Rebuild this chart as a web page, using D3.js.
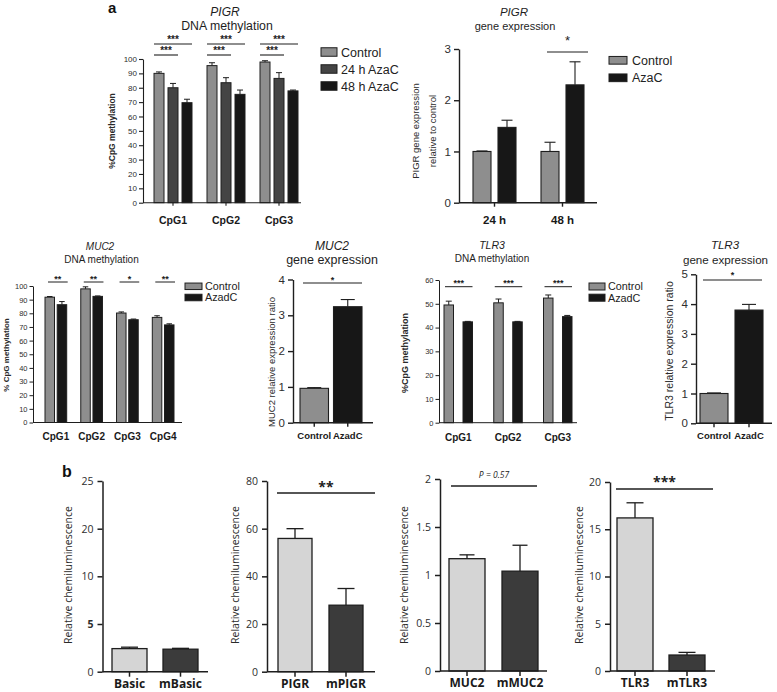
<!DOCTYPE html>
<html><head><meta charset="utf-8">
<script src="https://cdn.jsdelivr.net/npm/d3@7"></script>
<style>body{margin:0;background:#fff}svg{display:block}</style>
</head><body><svg id="c" width="777" height="692"></svg>
<script>
// ---------------- DATA ----------------
// a, PIGR DNA methylation
const pigrMethCategories = ["CpG1", "CpG2", "CpG3"];
const pigrMethSeries = ["Control", "24 h AzaC", "48 h AzaC"];
const pigrMethControl = [90.0, 95.4, 97.9];
const pigrMethControlErr = [1.0, 2.0, 0.9];
const pigrMeth24h = [80.0, 83.5, 86.5];
const pigrMeth24hErr = [3.0, 3.5, 4.0];
const pigrMeth48h = [69.6, 75.4, 77.8];
const pigrMeth48hErr = [2.4, 3.0, 0.6];
const pigrMethTicks = [0, 10, 20, 30, 40, 50, 60, 70, 80, 90, 100];
const pigrMethTitle = ["PIGR", "DNA methylation"];
const pigrMethYLabel = ["%CpG methylation"];
const pigrMethSig = [
  {from: ["CpG1", "Control"], to: ["CpG1", "48 h AzaC"], label: "***", level: 0},
  {from: ["CpG1", "Control"], to: ["CpG1", "24 h AzaC"], label: "***", level: 1},
  {from: ["CpG2", "Control"], to: ["CpG2", "48 h AzaC"], label: "***", level: 0},
  {from: ["CpG2", "Control"], to: ["CpG2", "24 h AzaC"], label: "***", level: 1},
  {from: ["CpG3", "Control"], to: ["CpG3", "48 h AzaC"], label: "***", level: 0},
  {from: ["CpG3", "Control"], to: ["CpG3", "24 h AzaC"], label: "***", level: 1}
];

// a, PIGR gene expression
const pigrExprCategories = ["24 h", "48 h"];
const pigrExprSeries = ["Control", "AzaC"];
const pigrExprControl = [1.0, 1.0];
const pigrExprControlErr = [0.01, 0.18];
const pigrExprAzaC = [1.47, 2.30];
const pigrExprAzaCErr = [0.14, 0.45];
const pigrExprTicks = [0, 1, 2, 3];
const pigrExprTitle = ["PIGR", "gene expression"];
const pigrExprYLabel = ["PIGR gene expression", "relative to control"];
const pigrExprSig = [{from: ["48 h", "Control"], to: ["48 h", "AzaC"], label: "*", level: 0}];

// a, MUC2 DNA methylation
const muc2MethCategories = ["CpG1", "CpG2", "CpG3", "CpG4"];
const muc2MethSeries = ["Control", "AzadC"];
const muc2MethControl = [91.8, 97.9, 80.2, 77.0];
const muc2MethControlErr = [0.5, 1.5, 0.8, 1.2];
const muc2MethAzadC = [86.3, 92.4, 75.3, 71.5];
const muc2MethAzadCErr = [2.3, 0.3, 0.5, 0.8];
const muc2MethTicks = [0, 10, 20, 30, 40, 50, 60, 70, 80, 90, 100];
const muc2MethTitle = ["MUC2", "DNA methylation"];
const muc2MethYLabel = ["% CpG methylation"];
const muc2MethSig = [
  {from: ["CpG1", "Control"], to: ["CpG1", "AzadC"], label: "**", level: 0},
  {from: ["CpG2", "Control"], to: ["CpG2", "AzadC"], label: "**", level: 0},
  {from: ["CpG3", "Control"], to: ["CpG3", "AzadC"], label: "*", level: 0},
  {from: ["CpG4", "Control"], to: ["CpG4", "AzadC"], label: "**", level: 0}
];

// a, MUC2 gene expression
const muc2ExprCategories = ["Control", "AzadC"];
const muc2ExprValues = [0.96, 3.24];
const muc2ExprErr = [0.02, 0.20];
const muc2ExprTicks = [0, 1, 2, 3, 4];
const muc2ExprTitle = ["MUC2", "gene expression"];
const muc2ExprYLabel = ["MUC2 relative expression ratio"];
const muc2ExprSig = [{from: ["Control", "ratio"], to: ["AzadC", "ratio"], label: "*", level: 0}];

// a, TLR3 DNA methylation
const tlr3MethCategories = ["CpG1", "CpG2", "CpG3"];
const tlr3MethSeries = ["Control", "AzadC"];
const tlr3MethControl = [49.5, 50.4, 52.4];
const tlr3MethControlErr = [1.6, 1.6, 1.3];
const tlr3MethAzadC = [42.4, 42.4, 44.6];
const tlr3MethAzadCErr = [0.2, 0.2, 0.5];
const tlr3MethTicks = [0, 10, 20, 30, 40, 50, 60];
const tlr3MethTitle = ["TLR3", "DNA methylation"];
const tlr3MethYLabel = ["%CpG methylation"];
const tlr3MethSig = [
  {from: ["CpG1", "Control"], to: ["CpG1", "AzadC"], label: "***", level: 0},
  {from: ["CpG2", "Control"], to: ["CpG2", "AzadC"], label: "***", level: 0},
  {from: ["CpG3", "Control"], to: ["CpG3", "AzadC"], label: "***", level: 0}
];

// a, TLR3 gene expression
const tlr3ExprCategories = ["Control", "AzadC"];
const tlr3ExprValues = [1.0, 3.8];
const tlr3ExprErr = [0.02, 0.19];
const tlr3ExprTicks = [0, 1, 2, 3, 4, 5];
const tlr3ExprTitle = ["TLR3", "gene expression"];
const tlr3ExprYLabel = ["TLR3 relative expression ratio"];
const tlr3ExprSig = [{from: ["Control", "ratio"], to: ["AzadC", "ratio"], label: "*", level: 0}];

// b, luciferase reporter
const basicCategories = ["Basic", "mBasic"];
const basicValues = [2.42, 2.36];
const basicErr = [0.15, 0.09];
const basicTicks = [0, 5, 10, 20, 25];

const pigrLucCategories = ["PIGR", "mPIGR"];
const pigrLucValues = [55.9, 27.9];
const pigrLucErr = [4.1, 7.0];
const pigrLucTicks = [0, 20, 40, 60, 80];
const pigrLucSig = [{from: ["PIGR", "lum"], to: ["mPIGR", "lum"], label: "**", level: 0}];

const muc2LucCategories = ["MUC2", "mMUC2"];
const muc2LucValues = [1.17, 1.04];
const muc2LucErr = [0.04, 0.27];
const muc2LucTicks = [0, 0.5, 1, 1.5, 2];
const muc2LucSig = [{from: ["MUC2", "lum"], to: ["mMUC2", "lum"], label: "P = 0.57", level: 0}];

const tlr3LucCategories = ["TLR3", "mTLR3"];
const tlr3LucValues = [16.2, 1.69];
const tlr3LucErr = [1.6, 0.28];
const tlr3LucTicks = [0, 5, 10, 15, 20];
const tlr3LucSig = [{from: ["TLR3", "lum"], to: ["mTLR3", "lum"], label: "***", level: 0}];

const lucYLabel = ["Relative chemiluminescence"];

// ---------------- DRAWING ----------------
const ARIAL = '"Liberation Sans", Arial, Helvetica, sans-serif';
const OPEN = '"Open Sans", "Liberation Sans", Arial, sans-serif';
const AX = "#1e1e1e", TX = "#2e2e2e";
const svg = d3.select("#c");

function drawPanel(p, L) {
  const font = L.font || ARIAL;
  const g = svg.append("g").attr("font-family", font);
  const y = d3.scaleLinear().domain(L.yDomain).range(L.yRange);
  const n = p.categories.length, m = p.series.length;
  const span = L.barRight - L.barLeft;
  const gW = m === 1 ? L.barW : L.groupW;
  const pad = (span - n * gW) / (span - gW);
  const x = d3.scaleBand().domain(p.categories).range([L.barLeft, L.barRight]).paddingInner(pad).paddingOuter(0);
  const ipad = m > 1 ? (gW - m * L.barW) / (gW - L.barW) : 0;
  const xi = d3.scaleBand().domain(p.series).range([0, x.bandwidth()]).paddingInner(ipad).paddingOuter(0);
  const bw = xi.bandwidth();
  const y0 = L.yRange[0];

  const rows = [];
  p.series.forEach((s, si) => p.categories.forEach((c, ci) =>
    rows.push({c, s, si, ci, v: p.values[si][ci], e: p.errs[si][ci]})));
  const col = d => L.colorBy === "category" ? L.colors[d.ci] : L.colors[d.si];
  const cx = d => x(d.c) + xi(d.s) + bw / 2;

  // error bars
  g.selectAll("line.eb").data(rows).join("line").attr("class", "eb")
    .attr("x1", cx).attr("x2", cx)
    .attr("y1", d => y(d.v)).attr("y2", d => y(d.v + d.e))
    .attr("stroke", AX).attr("stroke-width", L.barStroke);
  g.selectAll("line.cap").data(rows).join("line").attr("class", "cap")
    .attr("x1", d => cx(d) - L.capW / 2).attr("x2", d => cx(d) + L.capW / 2)
    .attr("y1", d => y(d.v + d.e)).attr("y2", d => y(d.v + d.e))
    .attr("stroke", AX).attr("stroke-width", L.barStroke);
  // bars
  g.selectAll("rect.bar").data(rows).join("rect").attr("class", "bar")
    .attr("x", d => x(d.c) + xi(d.s)).attr("width", bw)
    .attr("y", d => y(d.v)).attr("height", d => y0 - y(d.v))
    .attr("fill", col).attr("stroke", AX).attr("stroke-width", L.barStroke);

  // y axis
  const ya = d3.axisLeft(y).tickValues(p.yTicks).tickSize(L.tickLen).tickSizeOuter(0)
    .tickPadding(L.tickPad).tickFormat(d3.format("~g"));
  const yg = g.append("g").attr("transform", `translate(${L.axisX},0)`).call(ya)
    .attr("font-family", font).attr("font-size", L.tickFs);
  yg.select(".domain").attr("stroke", AX).attr("stroke-width", L.axisW);
  yg.selectAll(".tick line").attr("stroke", AX).attr("stroke-width", L.axisW);
  yg.selectAll(".tick text").attr("fill", TX)
    .attr("font-weight", d => (L.boldTick && L.boldTick.includes(d)) ? "bold" : "normal");

  // x axis
  g.append("line").attr("x1", L.axisX).attr("x2", L.axisEnd).attr("y1", y0).attr("y2", y0)
    .attr("stroke", AX).attr("stroke-width", L.axisW);
  const xa = d3.axisBottom(x).tickSize(L.xTickLen).tickSizeOuter(0);
  const xg = g.append("g").attr("transform", `translate(0,${y0})`).call(xa)
    .attr("font-family", font).attr("font-size", L.xLabelFs);
  xg.select(".domain").remove();
  xg.selectAll(".tick line").attr("stroke", AX).attr("stroke-width", L.axisW);
  xg.selectAll(".tick text").attr("y", L.xLabelDy).attr("dy", 0)
    .attr("font-weight", "bold").attr("fill", "#1a1a1a");

  // significance
  (p.sig || []).forEach(s => {
    const S = L.sig;
    const x1 = x(s.from[0]) + xi(s.from[1]) + S.dx1;
    const x2 = x(s.to[0]) + xi(s.to[1]) + bw + S.dx2;
    const ly = S.levelY[s.level];
    g.append("line").attr("x1", x1).attr("x2", x2).attr("y1", ly).attr("y2", ly)
      .attr("stroke", AX).attr("stroke-width", S.w || 1.1);
    const t = g.append("text").attr("x", (x1 + x2) / 2).attr("y", ly + S.dy)
      .attr("text-anchor", "middle").attr("font-size", S.fs).attr("fill", "#222")
      .attr("font-weight", S.bold ? "bold" : "normal");
    if (s.label.startsWith("P")) {
      t.append("tspan").attr("font-style", "italic").text("P");
      t.append("tspan").attr("font-style", "italic").text(s.label.slice(1));
    } else t.text(s.label);
  });

  // legend
  if (L.legend) {
    const G = L.legend;
    p.series.forEach((s, i) => {
      const cyy = G.y0 + i * G.step;
      g.append("rect").attr("x", G.x).attr("y", cyy - G.h / 2).attr("width", G.w).attr("height", G.h)
        .attr("fill", L.colors[i]).attr("stroke", AX).attr("stroke-width", 1);
      g.append("text").attr("x", G.textX).attr("y", cyy).attr("dy", "0.36em")
        .attr("font-size", G.fs).attr("fill", "#222").text(s);
    });
  }

  // titles
  (p.titles || []).forEach((t, i) => {
    const T = L.titles[i];
    g.append("text").attr("x", T.x).attr("y", T.y).attr("text-anchor", "middle")
      .attr("font-size", T.fs).attr("font-style", i === 0 ? "italic" : "normal")
      .attr("fill", "#1e1e1e").text(t);
  });

  // y label
  p.yLabel.forEach((t, i) => {
    const Y = L.yLab;
    g.append("text").attr("transform", `translate(${Y.x[i]},${Y.cy}) rotate(-90)`)
      .attr("text-anchor", "middle").attr("dy", "0.35em")
      .attr("font-size", Y.fs).attr("font-weight", Y.bold ? "bold" : "normal")
      .attr("fill", "#2a2a2a").text(t);
  });
}

const GRAY = "#8e8e8e", DARK = "#444444", BLACK = "#171717";
const LIGHT_B = "#d5d5d5", DARK_B = "#3b3b3b";

// a - PIGR methylation
drawPanel({categories: pigrMethCategories, series: pigrMethSeries,
  values: [pigrMethControl, pigrMeth24h, pigrMeth48h],
  errs: [pigrMethControlErr, pigrMeth24hErr, pigrMeth48hErr],
  yTicks: pigrMethTicks, sig: pigrMethSig, titles: pigrMethTitle, yLabel: pigrMethYLabel},
  {yDomain: [0, 100], yRange: [202.7, 59], axisX: 143, axisEnd: 301,
   barLeft: 154, barRight: 298, groupW: 38, barW: 10, capW: 6, barStroke: 1,
   tickLen: 4, tickPad: 2, tickFs: 8, axisW: 1.1, xTickLen: 3, xLabelDy: 21.5, xLabelFs: 10.5,
   colors: [GRAY, DARK, BLACK],
   sig: {levelY: [44, 55], dx1: 0, dx2: 0, fs: 10, dy: -1, bold: true, w: 1.1},
   legend: {x: 321, w: 16, h: 8.5, y0: 52, step: 17, textX: 341, fs: 12.5},
   titles: [{x: 225, y: 16.3, fs: 12}, {x: 227, y: 30, fs: 12.3}],
   yLab: {x: [112], cy: 131, fs: 8.5, bold: true}});

// a - PIGR expression
drawPanel({categories: pigrExprCategories, series: pigrExprSeries,
  values: [pigrExprControl, pigrExprAzaC], errs: [pigrExprControlErr, pigrExprAzaCErr],
  yTicks: pigrExprTicks, sig: pigrExprSig, titles: pigrExprTitle, yLabel: pigrExprYLabel},
  {yDomain: [0, 3], yRange: [202.7, 49], axisX: 459, axisEnd: 597,
   barLeft: 473, barRight: 584, groupW: 43, barW: 18, capW: 11, barStroke: 1.1,
   tickLen: 5, tickPad: 3, tickFs: 11.5, axisW: 1.4, xTickLen: 4, xLabelDy: 21.5, xLabelFs: 11.5,
   colors: [GRAY, BLACK],
   sig: {levelY: [52], dx1: 6, dx2: 4, fs: 13, dy: -7.5, bold: false, w: 1.2},
   legend: {x: 609, w: 18, h: 7.7, y0: 60.3, step: 17.5, textX: 632, fs: 12.5},
   titles: [{x: 514, y: 15.8, fs: 11.5}, {x: 515, y: 29.8, fs: 11}],
   yLab: {x: [416, 433], cy: 131, fs: 9.5, bold: false}});

// a - MUC2 methylation
drawPanel({categories: muc2MethCategories, series: muc2MethSeries,
  values: [muc2MethControl, muc2MethAzadC], errs: [muc2MethControlErr, muc2MethAzadCErr],
  yTicks: muc2MethTicks, sig: muc2MethSig, titles: muc2MethTitle, yLabel: muc2MethYLabel},
  {yDomain: [0, 100], yRange: [422.5, 286], axisX: 33, axisEnd: 182,
   barLeft: 45, barRight: 174, groupW: 21.7, barW: 9.5, capW: 5.5, barStroke: 1,
   tickLen: 3.5, tickPad: 2, tickFs: 7.5, axisW: 1, xTickLen: 0, xLabelDy: 17.5, xLabelFs: 10,
   colors: [GRAY, BLACK],
   sig: {levelY: [282], dx1: 3, dx2: 1, fs: 9, dy: 0, bold: true, w: 1},
   legend: {x: 185, w: 17, h: 6.5, y0: 286.3, step: 11.2, textX: 205, fs: 10.8},
   titles: [{x: 100, y: 250, fs: 10}, {x: 101.5, y: 262.5, fs: 10}],
   yLab: {x: [6.5], cy: 355, fs: 8, bold: true}});

// a - MUC2 expression
drawPanel({categories: muc2ExprCategories, series: ["ratio"],
  values: [muc2ExprValues], errs: [muc2ExprErr],
  yTicks: muc2ExprTicks, sig: muc2ExprSig, titles: muc2ExprTitle, yLabel: muc2ExprYLabel},
  {yDomain: [0, 4], yRange: [422.7, 279.5], axisX: 293, axisEnd: 373,
   barLeft: 300, barRight: 362, barW: 28.5, capW: 14, barStroke: 1.1,
   tickLen: 5, tickPad: 3, tickFs: 11.5, axisW: 1.4, xTickLen: 4, xLabelDy: 16.5, xLabelFs: 9.5,
   colorBy: "category", colors: [GRAY, BLACK],
   sig: {levelY: [283], dx1: 3, dx2: 0, fs: 9, dy: 0, bold: true, w: 1.1},
   titles: [{x: 332, y: 249.5, fs: 12}, {x: 332, y: 263.5, fs: 12.5}],
   yLab: {x: [272], cy: 362, fs: 9.5, bold: false}});

// a - TLR3 methylation
drawPanel({categories: tlr3MethCategories, series: tlr3MethSeries,
  values: [tlr3MethControl, tlr3MethAzadC], errs: [tlr3MethControlErr, tlr3MethAzadCErr],
  yTicks: tlr3MethTicks, sig: tlr3MethSig, titles: tlr3MethTitle, yLabel: tlr3MethYLabel},
  {yDomain: [0, 60], yRange: [422.7, 280], axisX: 439, axisEnd: 577,
   barLeft: 444, barRight: 572, groupW: 28.5, barW: 9.5, capW: 6, barStroke: 1,
   tickLen: 3.5, tickPad: 2, tickFs: 7.5, axisW: 1, xTickLen: 0, xLabelDy: 18, xLabelFs: 10,
   colors: [GRAY, BLACK],
   sig: {levelY: [286.7], dx1: 1, dx2: 0, fs: 9, dy: -1, bold: true, w: 1},
   legend: {x: 589, w: 16, h: 7, y0: 286.5, step: 11.2, textX: 608, fs: 10.8},
   titles: [{x: 492, y: 249.2, fs: 10.5}, {x: 492, y: 262, fs: 10}],
   yLab: {x: [405], cy: 353, fs: 9, bold: true}});

// a - TLR3 expression
drawPanel({categories: tlr3ExprCategories, series: ["ratio"],
  values: [tlr3ExprValues], errs: [tlr3ExprErr],
  yTicks: tlr3ExprTicks, sig: tlr3ExprSig, titles: tlr3ExprTitle, yLabel: tlr3ExprYLabel},
  {yDomain: [0, 5], yRange: [423.3, 274.3], axisX: 696, axisEnd: 772,
   barLeft: 700, barRight: 763, barW: 28, capW: 14, barStroke: 1.1,
   tickLen: 5, tickPad: 3, tickFs: 11.5, axisW: 1.4, xTickLen: 4, xLabelDy: 16, xLabelFs: 9.5,
   colorBy: "category", colors: [GRAY, BLACK],
   sig: {levelY: [280], dx1: 3, dx2: -1, fs: 9, dy: -2, bold: true, w: 1.1},
   titles: [{x: 725, y: 249.3, fs: 11.5}, {x: 725.5, y: 263.5, fs: 11.6}],
   yLab: {x: [669], cy: 351, fs: 10.5, bold: false}});

// b panels
const bCommon = {barStroke: 1.3, tickLen: 5, tickPad: 4, tickFs: 10.5, axisW: 1.5, xTickLen: 5,
  xLabelDy: 16, xLabelFs: 12, colorBy: "category", colors: [LIGHT_B, DARK_B], font: OPEN};

drawPanel({categories: basicCategories, series: ["lum"], values: [basicValues], errs: [basicErr],
  yTicks: basicTicks, yLabel: lucYLabel},
  Object.assign({}, bCommon, {yDomain: [0, 5, 10, 20, 25], yRange: [671.7, 624, 576.3, 528.7, 481],
   axisX: 102.5, axisEnd: 208, barLeft: 112, barRight: 198, barW: 35, capW: 17, boldTick: [5],
   yLab: {x: [68.5], cy: 575, fs: 10.5, bold: false}}));

drawPanel({categories: pigrLucCategories, series: ["lum"], values: [pigrLucValues], errs: [pigrLucErr],
  yTicks: pigrLucTicks, sig: pigrLucSig, yLabel: lucYLabel},
  Object.assign({}, bCommon, {yDomain: [0, 80], yRange: [671.7, 481],
   axisX: 267, axisEnd: 375, barLeft: 278, barRight: 363, barW: 34, capW: 17,
   sig: {levelY: [493], dx1: -1, dx2: 12, fs: 14, dy: -1, bold: true, w: 1.3},
   yLab: {x: [235], cy: 575, fs: 10.5, bold: false}}));

drawPanel({categories: muc2LucCategories, series: ["lum"], values: [muc2LucValues], errs: [muc2LucErr],
  yTicks: muc2LucTicks, sig: muc2LucSig, yLabel: lucYLabel},
  Object.assign({}, bCommon, {yDomain: [0, 2], yRange: [671, 479],
   axisX: 440, axisEnd: 547, barLeft: 449, barRight: 538, barW: 36, capW: 15,
   sig: {levelY: [486], dx1: 2, dx2: -1, fs: 8.5, dy: -8, bold: false, w: 1.3},
   yLab: {x: [404], cy: 575, fs: 10.5, bold: false}}));

drawPanel({categories: tlr3LucCategories, series: ["lum"], values: [tlr3LucValues], errs: [tlr3LucErr],
  yTicks: tlr3LucTicks, sig: tlr3LucSig, yLabel: lucYLabel},
  Object.assign({}, bCommon, {yDomain: [0, 20], yRange: [671, 482],
   axisX: 610, axisEnd: 715, barLeft: 617, barRight: 705, barW: 36, capW: 17,
   sig: {levelY: [489], dx1: -1, dx2: 8, fs: 14, dy: -2, bold: true, w: 1.3},
   yLab: {x: [579], cy: 575, fs: 10.5, bold: false}}));

// panel letters
svg.append("text").attr("x", 108).attr("y", 12.5).attr("font-family", ARIAL)
  .attr("font-size", 15).attr("font-weight", "bold").attr("fill", "#111").text("a");
svg.append("text").attr("x", 62).attr("y", 477).attr("font-family", ARIAL)
  .attr("font-size", 16).attr("font-weight", "bold").attr("fill", "#111").text("b");
</script></body></html>
